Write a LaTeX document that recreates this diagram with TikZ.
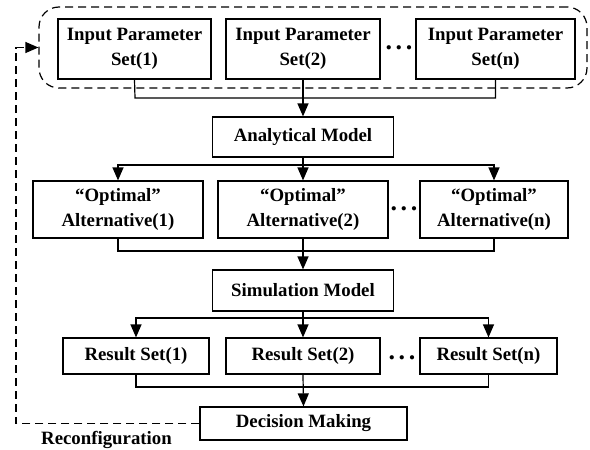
\documentclass[tikz,border=0pt]{standalone}
\usepackage{fontspec}
\setmainfont{Liberation Serif}
\usetikzlibrary{arrows.meta}
\begin{document}
\begin{tikzpicture}[x=0.5pt,y=-0.5pt,
  box/.style={draw, line width=0.6pt, align=center, inner sep=0pt,
    font=\bfseries\fontsize{9.4}{12.5}\selectfont},
  lbl/.style={inner sep=0pt, font=\bfseries\fontsize{9.4}{12.5}\selectfont},
  dots/.style={inner sep=0pt, font=\bfseries\fontsize{13}{13}\selectfont},
  conn/.style={line width=0.6pt},
  arr/.style={line width=0.6pt, -{Triangle[length=6.5pt,width=5.5pt]}},
  dsh/.style={line width=0.6pt, dash pattern=on 4pt off 2.5pt}]
\useasboundingbox (0,0) rectangle (590,450);
% group
\node[draw, dsh, rounded corners=10pt, minimum width=274pt, minimum height=40.5pt, inner sep=0pt] (grp) at (313,47.5) {};
% inputs
\node[box, minimum width=76.5pt, minimum height=30pt] (in1) at (134.5,49) {Input Parameter\\Set(1)};
\node[box, minimum width=77pt, minimum height=30pt] (in2) at (303,49) {Input Parameter\\Set(2)};
\node[box, minimum width=79.5pt, minimum height=30pt] (in3) at (495.5,49) {Input Parameter\\Set(n)};
\node[dots] (d1) at (399,48) {.\kern1.8pt.\kern1.8pt.};
% analytical
\node[box, minimum width=90.5pt, minimum height=20pt] (ana) at (303,137) {Analytical Model};
% alternatives
\node[box, minimum width=85pt, minimum height=28.5pt] (alt1) at (118,209.5) {``Optimal''\\Alternative(1)};
\node[box, minimum width=85pt, minimum height=28.5pt] (alt2) at (303,209.5) {``Optimal''\\Alternative(2)};
\node[box, minimum width=74pt, minimum height=28.5pt] (altn) at (494,209.5) {``Optimal''\\Alternative(n)};
\node[dots] (d2) at (404,209) {.\kern1.8pt.\kern1.8pt.};
% simulation
\node[box, minimum width=90.5pt, minimum height=20.5pt] (sim) at (303,290.5) {Simulation Model};
% results
\node[box, minimum width=73pt, minimum height=18pt] (r1) at (136,356) {Result Set(1)};
\node[box, minimum width=77pt, minimum height=18pt] (r2) at (303,356) {Result Set(2)};
\node[box, minimum width=68.5pt, minimum height=18pt] (rn) at (488.5,356) {Result Set(n)};
\node[dots] (d3) at (402,358) {.\kern1.8pt.\kern1.8pt.};
% decision
\node[box, minimum width=103.5pt, minimum height=16.5pt] (dec) at (303.5,423.5) {Decision Making};
\node[lbl] (rec) at (106.5,440) {Reconfiguration};
% connectors
\coordinate (j0) at (135,98);
\draw[conn] (in1.south) -- (j0) -| (in3.south);
\draw[arr] (in2.south) -- (ana.north);
\coordinate (j1) at (303,165);
\draw[conn] (ana.south) -- (j1);
\draw[arr] (j1) -| (alt1.north);
\draw[arr] (j1) -| (altn.north);
\draw[arr] (j1) -- (alt2.north);
\coordinate (j2) at (118,251);
\draw[conn] (alt1.south) -- (j2) -| (altn.south);
\draw[arr] (alt2.south) -- (sim.north);
\coordinate (j3) at (303,318);
\draw[conn] (sim.south) -- (j3);
\draw[arr] (j3) -| (r1.north);
\draw[arr] (j3) -| (rn.north);
\draw[arr] (j3) -- (r2.north);
\coordinate (j4) at (136,387);
\draw[conn] (r1.south) -- (j4) -| (rn.south);
\draw[arr] (r2.south) -- (dec.north);
% feedback
\coordinate (f1) at (16,423.5);
\coordinate (f2) at (16,47.5);
\draw[dsh, -{Triangle[length=6.5pt,width=5.5pt]}] (dec.west) -- (f1) -- (f2) -- (grp.west);
\end{tikzpicture}
\end{document}
